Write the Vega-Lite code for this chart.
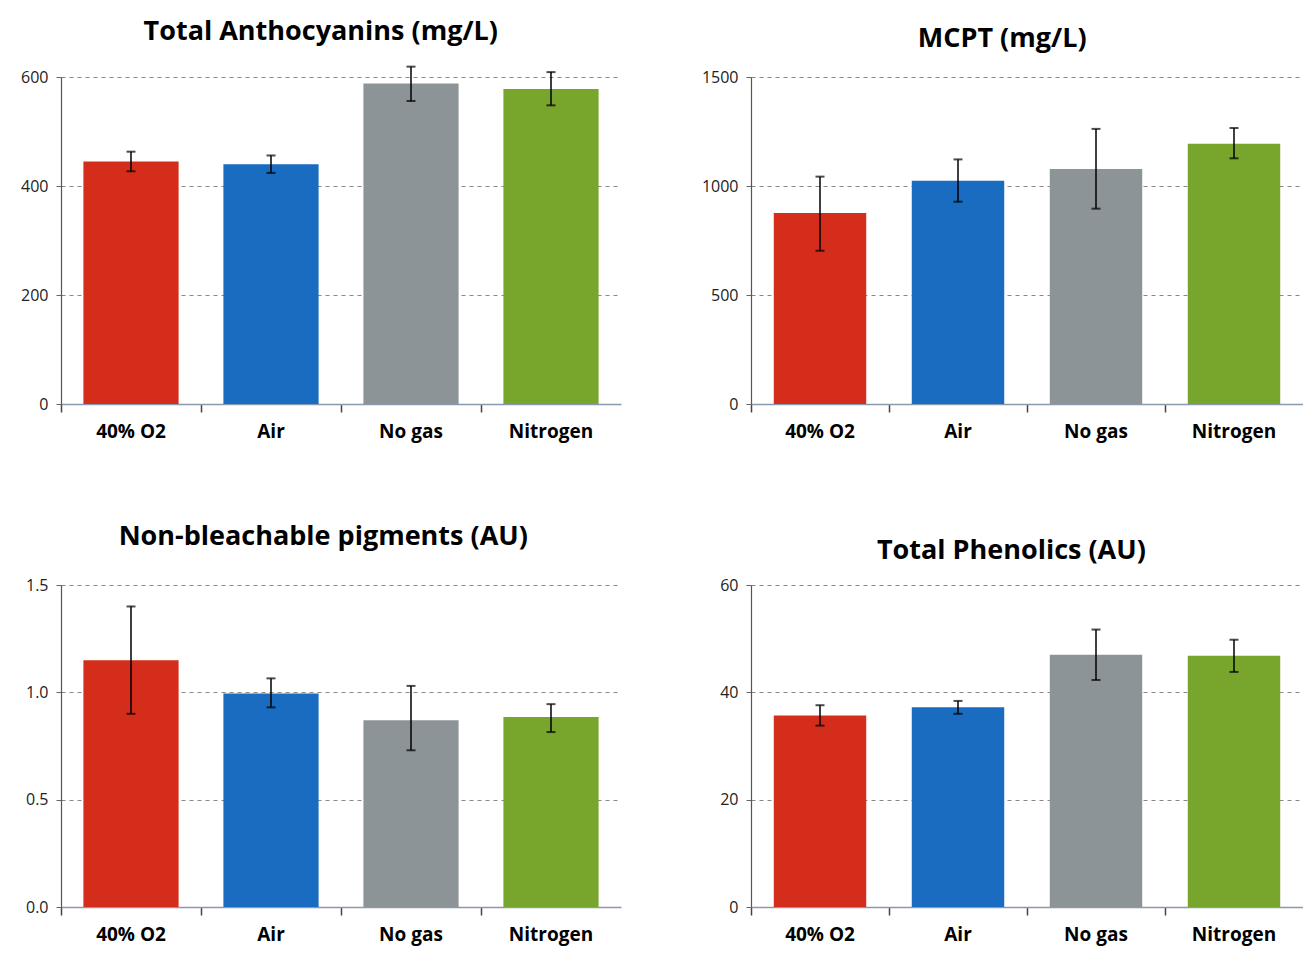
{
  "$schema": "https://vega.github.io/schema/vega-lite/v6.json",
  "background": "white",
  "padding": {"left": 20, "top": 17, "right": 0, "bottom": 13},
  "data": {"values": [
    {"panel": "TA", "treatment": "40% O2", "value": 445, "lo": 427, "hi": 463},
    {"panel": "TA", "treatment": "Air", "value": 440, "lo": 424, "hi": 456},
    {"panel": "TA", "treatment": "No gas", "value": 588, "lo": 556, "hi": 619},
    {"panel": "TA", "treatment": "Nitrogen", "value": 578, "lo": 548, "hi": 609},
    {"panel": "MCPT", "treatment": "40% O2", "value": 876, "lo": 703, "hi": 1043},
    {"panel": "MCPT", "treatment": "Air", "value": 1024, "lo": 928, "hi": 1122},
    {"panel": "MCPT", "treatment": "No gas", "value": 1078, "lo": 896, "hi": 1262},
    {"panel": "MCPT", "treatment": "Nitrogen", "value": 1194, "lo": 1127, "hi": 1266},
    {"panel": "NBP", "treatment": "40% O2", "value": 1.15, "lo": 0.9, "hi": 1.4},
    {"panel": "NBP", "treatment": "Air", "value": 0.995, "lo": 0.93, "hi": 1.065},
    {"panel": "NBP", "treatment": "No gas", "value": 0.87, "lo": 0.73, "hi": 1.03},
    {"panel": "NBP", "treatment": "Nitrogen", "value": 0.885, "lo": 0.815, "hi": 0.945},
    {"panel": "TP", "treatment": "40% O2", "value": 35.7, "lo": 33.8, "hi": 37.6},
    {"panel": "TP", "treatment": "Air", "value": 37.2, "lo": 36.0, "hi": 38.4},
    {"panel": "TP", "treatment": "No gas", "value": 47.0, "lo": 42.3, "hi": 51.7},
    {"panel": "TP", "treatment": "Nitrogen", "value": 46.8, "lo": 43.8, "hi": 49.8}
  ]},
  "columns": 2,
  "spacing": {"row": 181, "column": 130},
  "bounds": "flush",
  "concat": [
    {
      "title": {"text": "Total Anthocyanins (mg/L)"},
      "width": 560, "height": 327,
      "transform": [{"filter": "datum.panel === 'TA'"}],
      "encoding": {"x": {"field": "treatment", "type": "nominal", "title": null,
        "scale": {"domain": ["40% O2", "Air", "No gas", "Nitrogen"], "paddingInner": 0, "paddingOuter": 0}}},
      "layer": [
        {"mark": {"type": "bar", "width": {"band": 0.68}},
         "encoding": {
           "y": {"field": "value", "type": "quantitative", "title": null,
             "scale": {"domain": [0, 600], "nice": false},
             "axis": {"values": [0, 200, 400, 600], "format": "d"}},
           "color": {"field": "treatment", "type": "nominal", "legend": null,
             "scale": {"domain": ["40% O2", "Air", "No gas", "Nitrogen"], "range": ["#d52d1c", "#196cbf", "#8d9497", "#78a52c"]}}}},
        {"mark": {"type": "rule", "color": "black", "strokeWidth": 1.5},
         "encoding": {"y": {"field": "lo", "type": "quantitative"}, "y2": {"field": "hi"}}},
        {"mark": {"type": "tick", "color": "black", "size": 9, "thickness": 2},
         "encoding": {"y": {"field": "lo", "type": "quantitative"}}},
        {"mark": {"type": "tick", "color": "black", "size": 9, "thickness": 2},
         "encoding": {"y": {"field": "hi", "type": "quantitative"}}}
      ]
    },
    {
      "title": {"text": "MCPT (mg/L)", "dy": 4},
      "width": 552, "height": 327,
      "transform": [{"filter": "datum.panel === 'MCPT'"}],
      "encoding": {"x": {"field": "treatment", "type": "nominal", "title": null,
        "scale": {"domain": ["40% O2", "Air", "No gas", "Nitrogen"], "paddingInner": 0, "paddingOuter": 0}}},
      "layer": [
        {"mark": {"type": "bar", "width": {"band": 0.67}},
         "encoding": {
           "y": {"field": "value", "type": "quantitative", "title": null,
             "scale": {"domain": [0, 1500], "nice": false},
             "axis": {"values": [0, 500, 1000, 1500], "format": "d"}},
           "color": {"field": "treatment", "type": "nominal", "legend": null,
             "scale": {"domain": ["40% O2", "Air", "No gas", "Nitrogen"], "range": ["#d52d1c", "#196cbf", "#8d9497", "#78a52c"]}}}},
        {"mark": {"type": "rule", "color": "black", "strokeWidth": 1.5},
         "encoding": {"y": {"field": "lo", "type": "quantitative"}, "y2": {"field": "hi"}}},
        {"mark": {"type": "tick", "color": "black", "size": 9, "thickness": 2},
         "encoding": {"y": {"field": "lo", "type": "quantitative"}}},
        {"mark": {"type": "tick", "color": "black", "size": 9, "thickness": 2},
         "encoding": {"y": {"field": "hi", "type": "quantitative"}}}
      ]
    },
    {
      "title": {"text": "Non-bleachable  pigments (AU)", "dy": -6},
      "width": 560, "height": 322,
      "transform": [{"filter": "datum.panel === 'NBP'"}],
      "encoding": {"x": {"field": "treatment", "type": "nominal", "title": null,
        "scale": {"domain": ["40% O2", "Air", "No gas", "Nitrogen"], "paddingInner": 0, "paddingOuter": 0}}},
      "layer": [
        {"mark": {"type": "bar", "width": {"band": 0.68}},
         "encoding": {
           "y": {"field": "value", "type": "quantitative", "title": null,
             "scale": {"domain": [0, 1.5], "nice": false},
             "axis": {"values": [0, 0.5, 1.0, 1.5], "format": ".1f"}},
           "color": {"field": "treatment", "type": "nominal", "legend": null,
             "scale": {"domain": ["40% O2", "Air", "No gas", "Nitrogen"], "range": ["#d52d1c", "#196cbf", "#8d9497", "#78a52c"]}}}},
        {"mark": {"type": "rule", "color": "black", "strokeWidth": 1.5},
         "encoding": {"y": {"field": "lo", "type": "quantitative"}, "y2": {"field": "hi"}}},
        {"mark": {"type": "tick", "color": "black", "size": 9, "thickness": 2},
         "encoding": {"y": {"field": "lo", "type": "quantitative"}}},
        {"mark": {"type": "tick", "color": "black", "size": 9, "thickness": 2},
         "encoding": {"y": {"field": "hi", "type": "quantitative"}}}
      ]
    },
    {
      "title": {"text": "Total Phenolics (AU)", "dy": 8},
      "width": 552, "height": 322,
      "transform": [{"filter": "datum.panel === 'TP'"}],
      "encoding": {"x": {"field": "treatment", "type": "nominal", "title": null,
        "scale": {"domain": ["40% O2", "Air", "No gas", "Nitrogen"], "paddingInner": 0, "paddingOuter": 0}}},
      "layer": [
        {"mark": {"type": "bar", "width": {"band": 0.67}},
         "encoding": {
           "y": {"field": "value", "type": "quantitative", "title": null,
             "scale": {"domain": [0, 60], "nice": false},
             "axis": {"values": [0, 20, 40, 60], "format": "d"}},
           "color": {"field": "treatment", "type": "nominal", "legend": null,
             "scale": {"domain": ["40% O2", "Air", "No gas", "Nitrogen"], "range": ["#d52d1c", "#196cbf", "#8d9497", "#78a52c"]}}}},
        {"mark": {"type": "rule", "color": "black", "strokeWidth": 1.5},
         "encoding": {"y": {"field": "lo", "type": "quantitative"}, "y2": {"field": "hi"}}},
        {"mark": {"type": "tick", "color": "black", "size": 9, "thickness": 2},
         "encoding": {"y": {"field": "lo", "type": "quantitative"}}},
        {"mark": {"type": "tick", "color": "black", "size": 9, "thickness": 2},
         "encoding": {"y": {"field": "hi", "type": "quantitative"}}}
      ]
    }
  ],
  "resolve": {"scale": {"y": "independent", "x": "independent"}},
  "config": {
    "font": "Open Sans",
    "view": {"stroke": null},
    "title": {"font": "Open Sans", "fontSize": 27, "fontWeight": "bold", "color": "black", "anchor": "middle", "frame": "bounds", "offset": 20},
    "axisX": {"bandPosition": 0, "tickSize": 8, "tickColor": "#444", "tickWidth": 1.5, "domainColor": "#8a9aae", "domainWidth": 1.5,
      "labelFont": "Open Sans", "labelFontSize": 19, "labelFontWeight": "bold", "labelColor": "black", "labelPadding": 10, "labelAngle": 0, "grid": false},
    "axisY": {"tickSize": 5, "tickColor": "#666", "domainColor": "#555", "domainWidth": 1.2, "labelFont": "Open Sans", "labelFontSize": 16, "labelColor": "#222",
      "labelPadding": 8, "grid": true, "gridColor": "#888", "gridDash": [4, 4], "gridWidth": 1}
  }
}
